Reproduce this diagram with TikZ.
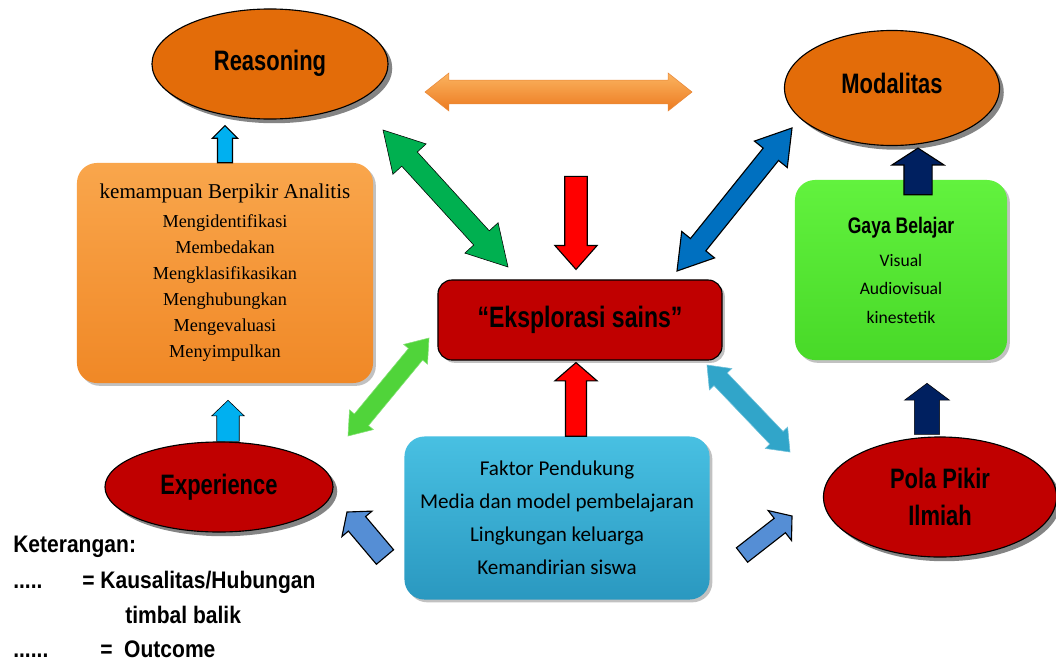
\documentclass[tikz,border=0pt]{standalone}
\usepackage{fontspec}
\setmainfont{Liberation Serif}
\newfontfamily\agency{Liberation Sans}[FakeStretch=0.78]
\newfontfamily\agencywide{Liberation Sans}[FakeStretch=0.88]
\newfontfamily\calib{Carlito}
\usepackage{tikz}
\usetikzlibrary{calc,shapes.geometric,shadows}
\definecolor{oranj}{RGB}{227,108,9}
\definecolor{merah}{RGB}{192,0,0}
\definecolor{langit}{RGB}{0,176,240}
\definecolor{hijau}{RGB}{0,176,80}
\definecolor{biru}{RGB}{0,112,192}
\definecolor{navy}{RGB}{0,32,96}
\definecolor{birumuda}{RGB}{85,142,213}
\definecolor{teal}{RGB}{49,165,201}
\definecolor{daun}{RGB}{80,212,58}

% block arrows: style, from, to, shaft half, head half, head length
\newcommand\dblarrow[6]{%
  \coordinate (ha) at ($(#2)!#6!(#3)$);
  \coordinate (hb) at ($(#3)!#6!(#2)$);
  \draw[#1] (#2) -- ($(ha)!#5!90:(#3)$) -- ($(ha)!#4!90:(#3)$)
    -- ($(hb)!#4!-90:(#2)$) -- ($(hb)!#5!-90:(#2)$) -- (#3)
    -- ($(hb)!#5!90:(#2)$) -- ($(hb)!#4!90:(#2)$)
    -- ($(ha)!#4!-90:(#3)$) -- ($(ha)!#5!-90:(#3)$) -- cycle;
}
\newcommand\sglarrow[6]{%
  \coordinate (hb) at ($(#3)!#6!(#2)$);
  \draw[#1] ($(#2)!#4!90:(#3)$) -- ($(hb)!#4!-90:(#2)$) -- ($(hb)!#5!-90:(#2)$)
    -- (#3) -- ($(hb)!#5!90:(#2)$) -- ($(hb)!#4!90:(#2)$)
    -- ($(#2)!#4!-90:(#3)$) -- cycle;
}

\begin{document}
\begin{tikzpicture}[x=0.025cm, y=-0.025cm, every node/.style={inner sep=0pt},
  oval/.style={ellipse, draw=black, thick, font=\agency\bfseries\fontsize{20}{26}\selectfont,
    align=center, drop shadow={shadow xshift=3pt, shadow yshift=-3pt, fill=black!60, opacity=0.8}},
  kotak/.style={rounded corners=0.5cm, align=center,
    drop shadow={shadow xshift=2pt, shadow yshift=-2pt, fill=black!40, opacity=0.6}},
  hitam/.style={draw=black, line width=0.8pt, line join=miter}]
\useasboundingbox (0,0) rectangle (1056,664);
\fill[white] (0,0) rectangle (1056,664);

% ---- top ovals
\node[oval, fill=oranj, minimum width=5.9cm, minimum height=2.75cm] (reason) at (270,64) {\raisebox{5pt}{Reasoning}};
\node[oval, fill=oranj, minimum width=5.375cm, minimum height=2.875cm] (modal) at (892,88) {\raisebox{7pt}{Modalitas}};

% ---- boxes
\node[kotak, top color={rgb,255:red,249;green,166;blue,76}, bottom color={rgb,255:red,240;green,136;blue,38},
  minimum width=7.4cm, minimum height=5.5cm, font=\fontsize{13}{18.5}\selectfont] (analit) at (225,273)
  {{\fontsize{15}{19}\selectfont kemampuan Berpikir Analitis}\\[2pt]
   Mengidentifikasi\\ Membedakan\\ Mengklasifikasikan\\ Menghubungkan\\ Mengevaluasi\\ Menyimpulkan};
\node[kotak, rounded corners=0.35cm, hitam, fill=merah, minimum width=7.1cm, minimum height=2cm,
  font=\agency\bfseries\fontsize{21}{26}\selectfont] (eksp) at (580,320) {\raisebox{4pt}{“Eksplorasi sains”}};
\node[kotak, top color={rgb,255:red,98;green,242;blue,62}, bottom color={rgb,255:red,72;green,217;blue,40},
  minimum width=5.3cm, minimum height=4.5cm, font=\calib\fontsize{12.5}{20}\selectfont] (gaya) at (901,270)
  {{\agency\bfseries\fontsize{16}{19}\selectfont Gaya Belajar}\\[4pt] Visual\\ Audiovisual\\ kinestetik};
\node[kotak, top color={rgb,255:red,72;green,192;blue,226}, bottom color={rgb,255:red,42;green,152;blue,192},
  minimum width=7.625cm, minimum height=4.075cm, font=\calib\fontsize{15}{23.5}\selectfont] (faktor) at (557,518)
  {Faktor Pendukung\\ Media dan model pembelajaran\\ Lingkungan keluarga\\ Kemandirian siswa};

% ---- bottom ovals
\node[oval, fill=merah, minimum width=5.7cm, minimum height=2.25cm] (exper) at (219,487) {Experience};
\node[oval, fill=merah, minimum width=5.825cm, minimum height=3cm] (pola) at (940,497)
  {\raisebox{-6pt}{Pola Pikir}\\ \raisebox{-6pt}{Ilmiah}};

% ---- free ends of the big arrows
\coordinate (oL) at (425,92);  \coordinate (oR) at (692,92);
\coordinate (g1) at (383,130); \coordinate (g2) at (508,267);
\coordinate (b1) at (677,271); \coordinate (b2) at (792,128);
\coordinate (lg1) at (348,436); \coordinate (lg2) at (429,338);
\coordinate (t1) at (707,365); \coordinate (t2) at (790,452);
\coordinate (s1) at (385,557); \coordinate (s1t) at (347,512);
\coordinate (s2) at (742,555); \coordinate (s2t) at (792,516);
\coordinate (rtop) at ($(eksp.north)+(-4,-103)$);

% ---- reciprocal arrows
\dblarrow{top color={rgb,255:red,251;green,180;blue,96}, bottom color={rgb,255:red,236;green,122;blue,32}, draw=oranj!80}{oL}{oR}{8.5pt}{13.5pt}{17pt}
\dblarrow{fill=hijau}{g1}{g2}{7.5pt}{16pt}{28pt}
\dblarrow{fill=biru, hitam}{b1}{b2}{7pt}{15pt}{24pt}
\dblarrow{fill=daun, draw=daun!70!white}{lg1}{lg2}{6.5pt}{11pt}{15pt}
\dblarrow{fill=teal, draw=teal!70!white}{t1}{t2}{6.5pt}{11pt}{14pt}

% ---- outcome arrows
\sglarrow{fill=langit, hitam}{analit.north}{$(analit.north |- reason.south)+(0,6)$}{5.3pt}{9pt}{9pt}
\sglarrow{fill=langit}{$(analit.south |- exper.north)+(3,0)$}{$(analit.south)+(3,17)$}{8pt}{11.5pt}{11pt}
\sglarrow{fill=red, hitam}{rtop}{$(eksp.north)+(-4,-10)$}{8pt}{15pt}{17pt}
\sglarrow{fill=red, hitam}{$(faktor.north)+(19,0)$}{$(eksp.south)+(-4,2)$}{7.5pt}{15pt}{13pt}
\sglarrow{fill=navy, hitam}{$(gaya.north)+(17,15)$}{$(gaya.north |- modal.south)+(17,2)$}{10pt}{18.5pt}{12pt}
\sglarrow{fill=navy}{$(pola.north)+(-13,-2)$}{$(pola.north |- gaya.south)+(-13,23)$}{9pt}{16pt}{12pt}
\sglarrow{fill=birumuda, hitam}{s1}{s1t}{8pt}{14pt}{11pt}
\sglarrow{fill=birumuda, hitam}{s2}{s2t}{6.5pt}{13.5pt}{11pt}

% ---- keterangan
\begin{scope}[every node/.style={anchor=base west, inner sep=0pt, font=\agencywide\bfseries\fontsize{17}{20}\selectfont}]
\node (ket) at (13,552) {Keterangan:};
\node (dot1) at (13,588) {.....};
\node (kaus) at (82,588) {= Kausalitas/Hubungan};
\node (timbal) at (125,623) {timbal balik};
\node (dot2) at (13,657) {......};
\node (outc) at (100,657) {=\ \ Outcome};
\end{scope}
\end{tikzpicture}
\end{document}
